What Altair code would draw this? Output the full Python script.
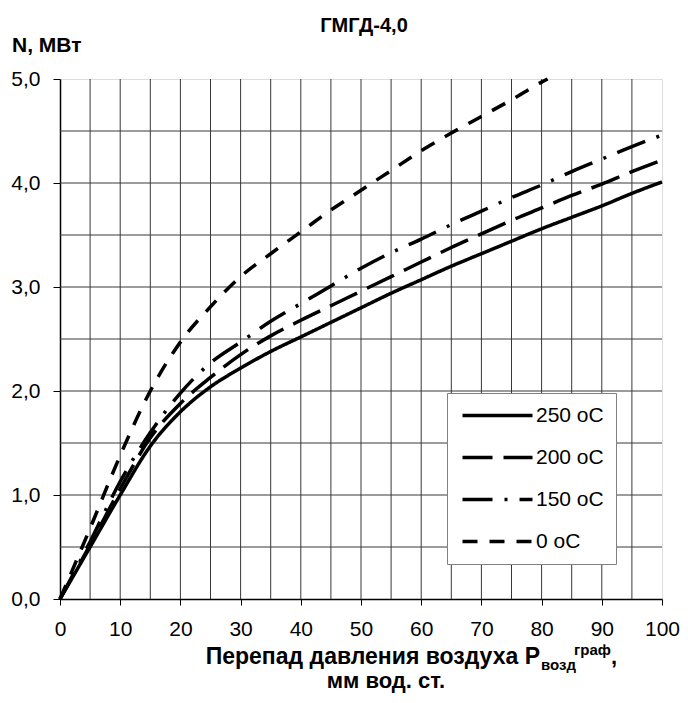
import altair as alt
import pandas as pd

# ---- data ----
x_common = [0, 5, 10, 15, 20, 25, 30, 35, 40, 45, 50, 55, 60, 65, 70, 75, 80, 85, 90, 95, 100]
n_250 = [0, 0.50, 1.00, 1.47, 1.80, 2.04, 2.22, 2.38, 2.52, 2.66, 2.80, 2.94, 3.07, 3.20, 3.32, 3.44, 3.56, 3.67, 3.78, 3.90, 4.01]
n_200 = [0, 0.52, 1.06, 1.55, 1.88, 2.13, 2.35, 2.53, 2.68, 2.82, 2.96, 3.10, 3.24, 3.38, 3.51, 3.64, 3.76, 3.88, 3.99, 4.11, 4.22]
n_150 = [0, 0.55, 1.13, 1.60, 1.98, 2.27, 2.47, 2.67, 2.84, 3.01, 3.18, 3.33, 3.46, 3.60, 3.73, 3.86, 3.98, 4.11, 4.23, 4.35, 4.46]
x_0 = [0, 5, 10, 15, 20, 25, 30, 35, 40, 45, 50, 55, 60, 65, 70, 75, 80, 81]
n_0 = [0, 0.68, 1.38, 2.00, 2.47, 2.81, 3.10, 3.32, 3.53, 3.74, 3.93, 4.12, 4.31, 4.48, 4.64, 4.80, 4.97, 5.00]

series_names = ["250 oC", "200 oC", "150 oC", "0 oC"]
dash_patterns = [[1, 0], [30, 11], [30, 12, 3, 12], [15, 12]]

x_ticks = [0, 10, 20, 30, 40, 50, 60, 70, 80, 90, 100]
y_ticks = [0, 1, 2, 3, 4, 5]
x_grid = [5, 10, 15, 20, 25, 30, 35, 40, 45, 50, 55, 60, 65, 70, 75, 80, 85, 90, 95]
y_grid = [0.5, 1.0, 1.5, 2.0, 2.5, 3.0, 3.5, 4.0, 4.5]

title_text = "ГМГД-4,0"
y_title = "N, МВт"
x_title_main = "Перепад давления воздуха P"
x_title_sub = "возд"
x_title_sup = "граф"
x_title_line2 = "мм вод. ст."

FONT = "Liberation Sans, Arial, sans-serif"

rows = []
for name, ys in zip(series_names[:3], [n_250, n_200, n_150]):
    for xv, yv in zip(x_common, ys):
        rows.append({"p": xv, "n": yv, "s": name})
for xv, yv in zip(x_0, n_0):
    rows.append({"p": xv, "n": yv, "s": "0 oC"})
df = pd.DataFrame(rows)

xscale = alt.Scale(domain=[0, 100], nice=False, zero=False)
yscale = alt.Scale(domain=[0, 5], nice=False, zero=False)

xaxis = alt.Axis(values=x_ticks, title=None, grid=False, tickSize=6, tickColor="black",
                 tickWidth=1, domainColor="black", domainWidth=1.5,
                 labelFont=FONT, labelFontSize=21, labelColor="black", labelPadding=13,
                 labelFlush=False)
yaxis = alt.Axis(values=y_ticks, title=None, grid=False, tickSize=7, tickColor="black",
                 tickWidth=1, domainColor="black", domainWidth=1.5,
                 labelFont=FONT, labelFontSize=21, labelColor="black", labelPadding=13,
                 labelFlush=False,
                 labelExpr="replace(format(datum.value, '.1f'), '.', ',')")

vgrid = alt.Chart(pd.DataFrame({"g": x_grid})).mark_rule(color="#383838", strokeWidth=1).encode(
    x=alt.X("g:Q", scale=xscale, axis=xaxis))
hgrid = alt.Chart(pd.DataFrame({"g": y_grid})).mark_rule(color="#383838", strokeWidth=1).encode(
    y=alt.Y("g:Q", scale=yscale, axis=yaxis))

lines = alt.Chart(df).mark_line(color="black", strokeWidth=3.5, interpolate="monotone").encode(
    x=alt.X("p:Q", scale=xscale, axis=xaxis),
    y=alt.Y("n:Q", scale=yscale, axis=yaxis),
    strokeDash=alt.StrokeDash("s:N",
        scale=alt.Scale(domain=series_names, range=dash_patterns),
        legend=alt.Legend(title=None, orient="none", legendX=387, legendY=314,
                          symbolType="M-5,0H5", symbolSize=196, symbolStrokeWidth=3.5,
                          symbolOffset=28,
                          symbolStrokeColor="black", labelFont=FONT, labelFontSize=21,
                          labelColor="black", labelOffset=28, fillColor="white",
                          strokeColor="#808080", padding=12, rowPadding=20)),
    detail="s:N",
)

def txt(t, x, y, size, align="left", weight="bold"):
    return alt.Chart(pd.DataFrame({"t": [t]})).mark_text(
        font=FONT, fontSize=size, fontWeight=weight, align=align, baseline="alphabetic",
        color="black").encode(text="t:N", x=alt.value(x), y=alt.value(y))

texts = [
    txt(title_text, 304, -47, 20, "center"),
    txt(y_title, -48, -27, 21, "left"),
    txt(x_title_main, 480, 585, 23, "right"),
    txt(x_title_sub, 481, 591, 15, "left"),
    txt(x_title_sup, 514, 576, 15, "left"),
    txt(",", 551, 585, 22, "left"),
    txt(x_title_line2, 326, 609, 22, "center"),
]

chart = alt.layer(vgrid, hgrid, lines, *texts).properties(
    width=602, height=520,
    padding={"left": 52, "top": 71, "right": 18, "bottom": 95},
    autosize=alt.AutoSizeParams(type="none"),
).configure_view(stroke="black", strokeWidth=1.5).configure(background="white")

chart.save("out.html", embed_options={"renderer": "svg", "actions": False})
